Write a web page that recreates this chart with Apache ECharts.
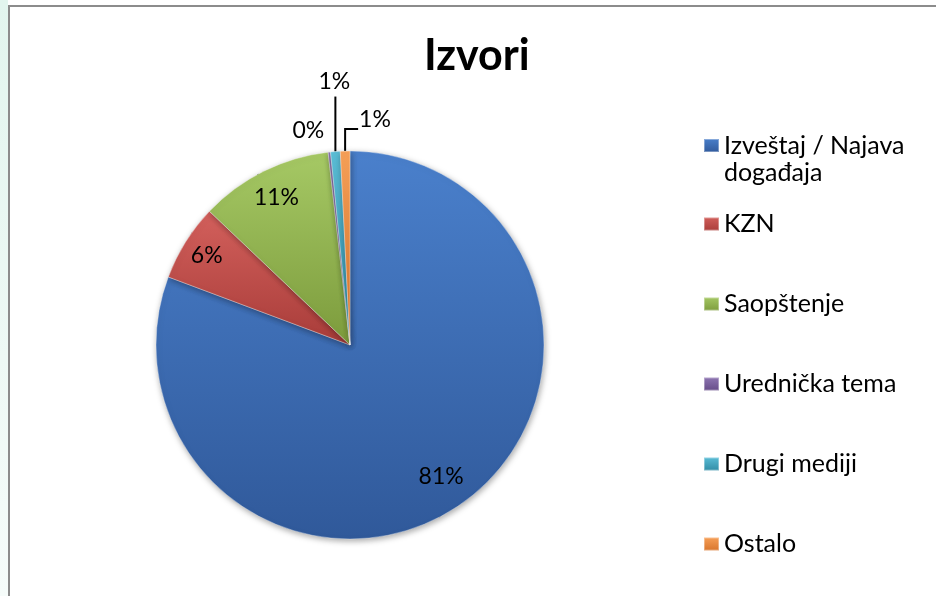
<!DOCTYPE html>
<html>
<head>
<meta charset="utf-8">
<script src="https://cdn.jsdelivr.net/npm/echarts@6/dist/echarts.min.js"></script>
<style>
    html, body {
        margin: 0;
        padding: 0;
        background: #fff;
        overflow: hidden;
    }
    #strip {
        position: absolute;
        left: 0; top: 0;
        width: 8px; height: 596px;
        background: linear-gradient(to bottom, #e2f5ee, #eef9f5 60%, #f6fcfa);
    }
    #frame {
        position: absolute;
        left: 8px; top: 5px;
        width: 1000px; height: 700px;
        border-top: 2px solid #8c8c8c;
        border-left: 2px solid #8c8c8c;
    }
    #chart {
        position: absolute;
        left: 0; top: 0;
        width: 936px;
        height: 596px;
    }
</style>
</head>
<body>
<div id="strip"></div>
<div id="frame"></div>
<div id="chart"></div>
<script>
// podaci
const categories = ["Izveštaj / Najava događaja", "KZN", "Saopštenje", "Urednička tema", "Drugi mediji", "Ostalo"];
const values = [80.7, 6.4, 11.1, 0.2, 0.8, 0.8];
// boje (gore svetlije, dole tamnije)
const topColors = ["#4a80cc", "#d3605c", "#a6c965", "#9078b4", "#5cbfd8", "#f8a159"];
const bottomColors = ["#30599a", "#a83c39", "#7c9b3c", "#644a86", "#2f8aa3", "#d6732a"];

const FONT = "Lato, 'Open Sans', sans-serif";
const center = [350, 345];
// koliko dalje od centra idu unutrašnje oznake (u odnosu na podrazumevano)
const innerScale = [1.6, 1.69, 1.65];

const chart = echarts.init(document.getElementById("chart"));

const pieData = categories.map((name, i) => ({
    name: name,
    value: values[i],
    itemStyle: {
        color: {
            type: "linear", x: 0, y: 0, x2: 0, y2: 1,
            colorStops: [
                { offset: 0, color: topColors[i] },
                { offset: 1, color: bottomColors[i] }
            ]
        }
    },
    label: { position: i < 3 ? "inside" : "outside" },
    labelLine: i === 3 ? { show: true, lineStyle: { opacity: 0 } } : { show: true }
}));

const legendText = { fontFamily: FONT, fontSize: 25, color: "#000" };

const option = {
    animation: false,
    backgroundColor: "transparent",
    title: {
        text: "Izvori",
        left: 419,
        top: 30,
        textStyle: { fontFamily: FONT, fontSize: 43, fontWeight: "bold", color: "#000" }
    },
    legend: [
        {
            orient: "vertical",
            left: 698,
            top: 100,
            data: [categories[0]],
            formatter: () => "{s| }\n{t|Izveštaj / Najava}\n{t|događaja}",
            icon: "rect",
            itemWidth: 15,
            itemHeight: 13,
            itemGap: 0,
            textStyle: Object.assign({}, legendText, {
                rich: {
                    s: { fontSize: 10, lineHeight: 27, height: 27 },
                    t: Object.assign({ lineHeight: 27 }, legendText)
                }
            })
        },
        {
            orient: "vertical",
            left: 698,
            top: 206,
            data: categories.slice(1),
            icon: "rect",
            itemWidth: 15,
            itemHeight: 13,
            itemGap: 54,
            textStyle: Object.assign({ lineHeight: 26 }, legendText)
        }
    ],
    series: [
        {
            type: "pie",
            center: center,
            radius: 194,
            startAngle: 90,
            clockwise: true,
            data: pieData,
            itemStyle: {
                borderColor: "rgba(255,255,255,0.35)",
                borderWidth: 1,
                shadowBlur: 6,
                shadowColor: "rgba(0,0,0,0.35)",
                shadowOffsetX: 1,
                shadowOffsetY: 2
            },
            label: {
                fontFamily: FONT,
                fontSize: 23,
                color: "#000",
                formatter: p => Math.round(p.percent) + "%"
            },
            labelLine: {
                length: 20,
                length2: 0,
                lineStyle: { color: "#000", width: 2 }
            },
            emphasis: { disabled: true },
            labelLayout: function (params) {
                const i = params.dataIndex;
                const r = params.labelRect;
                if (i < 3) {
                    const lx = r.x + r.width / 2, ly = r.y + r.height / 2;
                    return {
                        x: center[0] + (lx - center[0]) * innerScale[i],
                        y: center[1] + (ly - center[1]) * innerScale[i],
                        align: "center",
                        verticalAlign: "middle"
                    };
                }
                const p0 = params.labelLinePoints ? params.labelLinePoints[0] : [center[0], center[1] - 194];
                if (i === 3) {
                    return { x: p0[0] - 21, y: p0[1] - 22, align: "center", verticalAlign: "middle",
                        labelLinePoints: [p0, p0] };
                }
                if (i === 4) {
                    return { x: p0[0] - 1, y: p0[1] - 70, align: "center", verticalAlign: "middle",
                        labelLinePoints: [p0, [p0[0], p0[1] - 55]] };
                }
                return { x: p0[0] + 14, y: p0[1] - 31, align: "left", verticalAlign: "middle",
                    labelLinePoints: [p0, [p0[0], p0[1] - 22], [p0[0] + 13, p0[1] - 22]] };
            }
        }
    ]
};

chart.setOption(option);
</script>
</body>
</html>
